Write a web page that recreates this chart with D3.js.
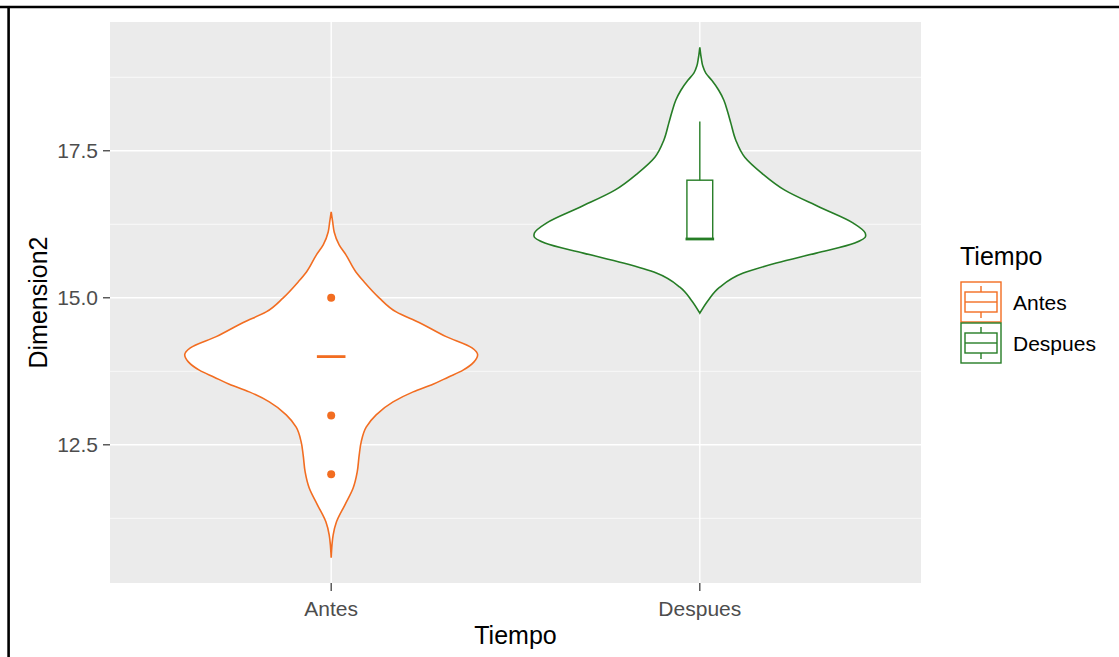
<!DOCTYPE html>
<html>
<head>
<meta charset="utf-8">
<script src="https://cdn.jsdelivr.net/npm/d3@7"></script>
<style>
  body { margin: 0; background: #ffffff; }
  text { font-family: "Liberation Sans", Arial, sans-serif; }
  .tick-label { fill: #4d4d4d; font-size: 21px; }
  .axis-title { fill: #000000; font-size: 25px; }
  .legend-label { fill: #000000; font-size: 21px; }
</style>
</head>
<body>
<div id="chart"></div>
<script>
const width = 1119;
const height = 657;

const panel = { left: 110, right: 921, top: 22, bottom: 583 };

// Data
const categories = ["Antes", "Despues"];
const colors = ["#f26d21", "#267d26"];

const yLimits = [10.15, 19.69];
const yTicks = [12.5, 15.0, 17.5];
const yMinorTicks = [11.25, 13.75, 16.25, 18.75];

// violin outlines: [value, relative density]
const antesViolin = [
  [16.46, 0], [16.29, 0.009], [16.12, 0.018], [15.90, 0.048], [15.73, 0.089],
  [15.44, 0.149], [15.27, 0.199], [15.00, 0.289], [14.76, 0.392], [14.58, 0.53],
  [14.34, 0.693], [14.15, 0.849], [14.03, 0.883], [13.91, 0.861], [13.77, 0.795],
  [13.65, 0.705], [13.53, 0.614], [13.40, 0.494], [13.23, 0.373], [13.01, 0.271],
  [12.80, 0.211], [12.55, 0.181], [12.33, 0.169], [12.04, 0.157], [11.77, 0.133],
  [11.48, 0.083], [11.19, 0.032], [10.97, 0.012], [10.80, 0.005], [10.58, 0]
];

const despuesViolin = [
  [19.26, 0], [19.07, 0.009], [18.94, 0.018], [18.82, 0.036], [18.70, 0.072],
  [18.53, 0.114], [18.36, 0.145], [18.15, 0.169], [17.97, 0.187], [17.68, 0.217],
  [17.39, 0.271], [17.12, 0.373], [16.83, 0.512], [16.54, 0.723], [16.27, 0.925],
  [16.10, 0.997], [16.05, 1.0], [15.93, 0.934], [15.76, 0.702], [15.59, 0.461],
  [15.42, 0.262], [15.18, 0.12], [14.96, 0.051], [14.74, 0]
];

// boxplot stats: [ymin, lower, median, upper, ymax]
const antesBox = [14, 14, 14, 14, 14];
const despuesBox = [16, 16, 16, 17, 18];
const antesOutliers = [15, 13, 12];
const despuesOutliers = [];

const violins = [antesViolin, despuesViolin];
const boxes = [antesBox, despuesBox];
const outliers = [antesOutliers, despuesOutliers];

const svg = d3.select("#chart")
  .append("svg")
  .attr("width", width)
  .attr("height", height);

// outer frame (only top and left edges show)
svg.append("line")
  .attr("x1", 0).attr("x2", width)
  .attr("y1", 7).attr("y2", 7)
  .attr("stroke", "#000").attr("stroke-width", 2.6);
svg.append("line")
  .attr("x1", 8.6).attr("x2", 8.6)
  .attr("y1", 6).attr("y2", height)
  .attr("stroke", "#000").attr("stroke-width", 2.6);

const xScale = d3.scalePoint()
  .domain(categories)
  .range([panel.left, panel.right])
  .padding(0.6);

const yScale = d3.scaleLinear()
  .domain(yLimits)
  .range([panel.bottom, panel.top]);

const widthScale = d3.scaleLinear()
  .domain([0, 1])
  .range([0, xScale.step() * 0.45]);

const boxWidth = xScale.step() * 0.07;

// panel background
svg.append("rect")
  .attr("x", panel.left)
  .attr("y", panel.top)
  .attr("width", panel.right - panel.left)
  .attr("height", panel.bottom - panel.top)
  .attr("fill", "#ebebeb");

// grid
svg.selectAll(".minor-grid")
  .data(yMinorTicks)
  .enter()
  .append("line")
  .attr("x1", panel.left).attr("x2", panel.right)
  .attr("y1", function(d) { return yScale(d); })
  .attr("y2", function(d) { return yScale(d); })
  .attr("stroke", "#ffffff").attr("stroke-width", 0.7);

svg.selectAll(".major-grid")
  .data(yTicks)
  .enter()
  .append("line")
  .attr("x1", panel.left).attr("x2", panel.right)
  .attr("y1", function(d) { return yScale(d); })
  .attr("y2", function(d) { return yScale(d); })
  .attr("stroke", "#ffffff").attr("stroke-width", 1.4);

svg.selectAll(".x-grid")
  .data(categories)
  .enter()
  .append("line")
  .attr("x1", function(d) { return xScale(d); })
  .attr("x2", function(d) { return xScale(d); })
  .attr("y1", panel.top).attr("y2", panel.bottom)
  .attr("stroke", "#ffffff").attr("stroke-width", 1.4);

// violins
categories.forEach(function(cat, i) {
  const cx = xScale(cat);
  const area = d3.area()
    .y(function(d) { return yScale(d[0]); })
    .x0(function(d) { return cx - widthScale(d[1]); })
    .x1(function(d) { return cx + widthScale(d[1]); })
    .curve(d3.curveMonotoneY);

  svg.append("path")
    .datum(violins[i])
    .attr("d", area)
    .attr("fill", "#ffffff")
    .attr("stroke", colors[i])
    .attr("stroke-width", 1.6);

  // boxplot
  const b = boxes[i];
  const g = svg.append("g")
    .attr("stroke", colors[i])
    .attr("fill", "none");

  g.append("line")
    .attr("x1", cx).attr("x2", cx)
    .attr("y1", yScale(b[3])).attr("y2", yScale(b[4]))
    .attr("stroke-width", 1.4);
  g.append("line")
    .attr("x1", cx).attr("x2", cx)
    .attr("y1", yScale(b[0])).attr("y2", yScale(b[1]))
    .attr("stroke-width", 1.4);

  if (b[3] > b[1]) {
    g.append("rect")
      .attr("x", cx - boxWidth / 2)
      .attr("y", yScale(b[3]))
      .attr("width", boxWidth)
      .attr("height", yScale(b[1]) - yScale(b[3]))
      .attr("stroke-width", 1.4);
  }

  g.append("line")
    .attr("x1", cx - boxWidth / 2).attr("x2", cx + boxWidth / 2)
    .attr("y1", yScale(b[2])).attr("y2", yScale(b[2]))
    .attr("stroke-width", 2.8)
    .attr("stroke-linecap", "square");

  svg.selectAll(".outlier-" + i)
    .data(outliers[i])
    .enter()
    .append("circle")
    .attr("cx", cx)
    .attr("cy", function(d) { return yScale(d); })
    .attr("r", 4)
    .attr("fill", colors[i]);
});

// axes
svg.selectAll(".y-tick")
  .data(yTicks)
  .enter()
  .append("line")
  .attr("x1", panel.left - 7).attr("x2", panel.left)
  .attr("y1", function(d) { return yScale(d); })
  .attr("y2", function(d) { return yScale(d); })
  .attr("stroke", "#333333").attr("stroke-width", 1.2);

svg.selectAll(".y-label")
  .data(yTicks)
  .enter()
  .append("text")
  .attr("class", "tick-label")
  .attr("x", panel.left - 12)
  .attr("y", function(d) { return yScale(d); })
  .attr("dy", "0.36em")
  .attr("text-anchor", "end")
  .text(function(d) { return d3.format(".1f")(d); });

svg.selectAll(".x-tick")
  .data(categories)
  .enter()
  .append("line")
  .attr("x1", function(d) { return xScale(d); })
  .attr("x2", function(d) { return xScale(d); })
  .attr("y1", panel.bottom).attr("y2", panel.bottom + 8)
  .attr("stroke", "#333333").attr("stroke-width", 1.2);

svg.selectAll(".x-label")
  .data(categories)
  .enter()
  .append("text")
  .attr("class", "tick-label")
  .attr("x", function(d) { return xScale(d); })
  .attr("y", 616)
  .attr("text-anchor", "middle")
  .text(function(d) { return d; });

svg.append("text")
  .attr("class", "axis-title")
  .attr("x", (panel.left + panel.right) / 2)
  .attr("y", 644)
  .attr("text-anchor", "middle")
  .text("Tiempo");

svg.append("text")
  .attr("class", "axis-title")
  .attr("transform", "translate(47," + ((panel.top + panel.bottom) / 2) + ") rotate(-90)")
  .attr("text-anchor", "middle")
  .text("Dimension2");

// legend
const legend = svg.append("g")
  .attr("transform", "translate(961,282)");

legend.append("text")
  .attr("class", "axis-title")
  .attr("x", -1)
  .attr("y", -17)
  .text("Tiempo");

const keySize = 40;

categories.forEach(function(cat, i) {
  const key = legend.append("g")
    .attr("transform", "translate(0," + (i * (keySize + 1)) + ")")
    .attr("stroke", colors[i])
    .attr("fill", "none")
    .attr("stroke-width", 1.4);

  key.append("rect")
    .attr("x", 0).attr("y", 0)
    .attr("width", keySize).attr("height", keySize)
    .attr("fill", "#ffffff");
  key.append("line")
    .attr("x1", keySize / 2).attr("x2", keySize / 2)
    .attr("y1", keySize * 0.1).attr("y2", keySize * 0.25);
  key.append("line")
    .attr("x1", keySize / 2).attr("x2", keySize / 2)
    .attr("y1", keySize * 0.75).attr("y2", keySize * 0.9);
  key.append("rect")
    .attr("x", keySize * 0.1).attr("y", keySize * 0.25)
    .attr("width", keySize * 0.8).attr("height", keySize * 0.5);
  key.append("line")
    .attr("x1", keySize * 0.1).attr("x2", keySize * 0.9)
    .attr("y1", keySize / 2).attr("y2", keySize / 2);

  legend.append("text")
    .attr("class", "legend-label")
    .attr("x", 52)
    .attr("y", i * (keySize + 1) + keySize / 2)
    .attr("dy", "0.36em")
    .text(cat);
});
</script>
</body>
</html>
